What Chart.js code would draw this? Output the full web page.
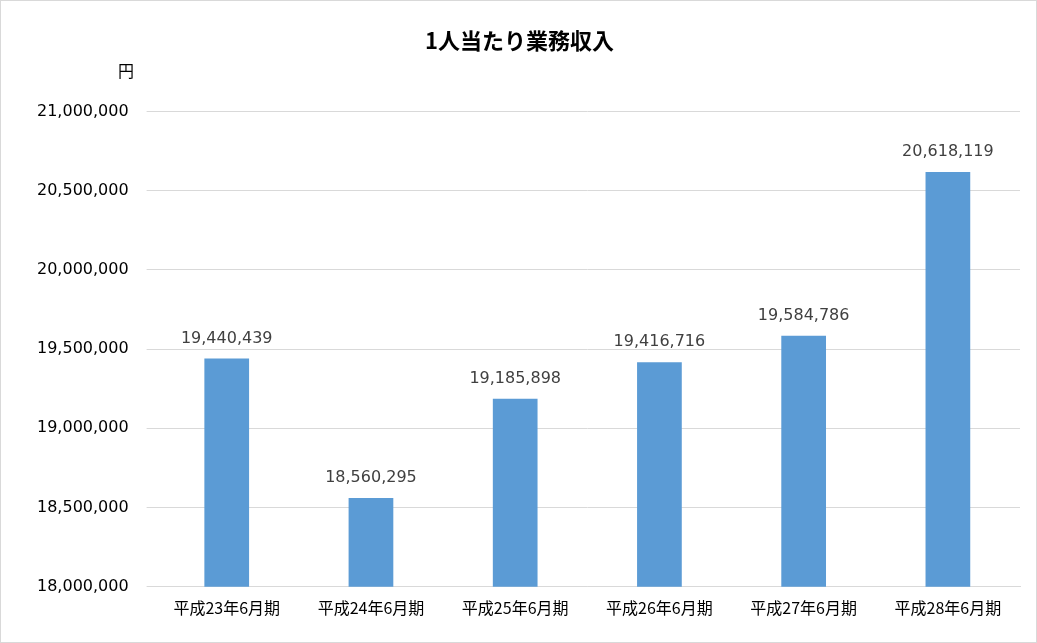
<!DOCTYPE html>
<html lang="ja">
<head>
<meta charset="UTF-8">
<title>1人当たり業務収入</title>
<script src="https://cdn.jsdelivr.net/npm/chart.js"></script>
<style>
  html, body { margin: 0; padding: 0; background: #fff; }
  #wrap { position: absolute; left: 0; top: 0; width: 1035px; height: 641px; border: 1px solid #d9d9d9; }
</style>
</head>
<body>
<div id="wrap"><canvas id="c"></canvas></div>
<script>
const categories = ['平成23年6月期', '平成24年6月期', '平成25年6月期', '平成26年6月期', '平成27年6月期', '平成28年6月期'];
const income = [19440439, 18560295, 19185898, 19416716, 19584786, 20618119];
const yMin = 18000000, yMax = 21000000, yStep = 500000;

const FONT = "'Noto Sans CJK JP', 'Noto Sans', sans-serif";
const NUM_FONT = "'DejaVu Sans', sans-serif";
const fmt = v => v.toLocaleString('en-US');

// values above bars plus the unit label
const labels = {
  id: 'labels',
  afterDatasetsDraw(chart) {
    const ctx = chart.ctx;
    ctx.save();
    ctx.fillStyle = '#404040';
    ctx.font = '16px ' + NUM_FONT;
    ctx.textAlign = 'center';
    ctx.textBaseline = 'bottom';
    chart.getDatasetMeta(0).data.forEach((bar, i) => {
      ctx.fillText(fmt(income[i]), bar.x, bar.y - 12);
    });
    ctx.fillStyle = '#000';
    ctx.font = '16px ' + FONT;
    ctx.fillText('円', 125, 78);
    ctx.restore();
  }
};

new Chart(document.getElementById('c'), {
  type: 'bar',
  data: {
    labels: categories,
    datasets: [{
      data: income,
      backgroundColor: '#5b9bd5',
      barPercentage: 0.31,
      categoryPercentage: 1
    }]
  },
  options: {
    responsive: true,
    maintainAspectRatio: false,
    animation: false,
    layout: { padding: { left: 18, right: 16, top: 12, bottom: 20 } },
    plugins: {
      legend: { display: false },
      tooltip: { enabled: false },
      title: {
        display: true,
        text: '1人当たり業務収入',
        color: '#000',
        font: { family: FONT, size: 22, weight: 'bold' },
        padding: { top: 14, bottom: 58 }
      }
    },
    scales: {
      x: {
        grid: { display: false },
        border: { color: '#d9d9d9' },
        ticks: { color: '#000', font: { family: FONT, size: 16 }, maxRotation: 0, padding: 4 }
      },
      y: {
        min: yMin, max: yMax,
        ticks: { stepSize: yStep, color: '#000', font: { family: NUM_FONT, size: 16 }, padding: 18, callback: v => fmt(v) },
        grid: { color: '#d9d9d9' },
        border: { display: false }
      }
    }
  },
  plugins: [labels]
});
</script>
</body>
</html>
